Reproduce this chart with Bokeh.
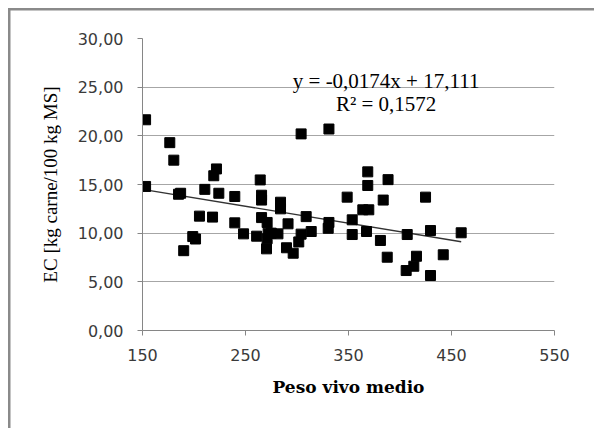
from bokeh.plotting import figure
from bokeh.models import Label, FixedTicker
from bokeh.embed import file_html
from bokeh.resources import INLINE

# data
peso_vivo = [153, 153, 176.5, 180.4, 185, 187, 190, 198.8, 201.5, 205.3,
             210.5, 219.2, 221.8, 218, 224.1, 239.6, 239.6, 248.1, 260.8, 264.3,
             265.6, 265.6, 265.6, 271, 270.4, 271, 272, 275, 281.5, 284,
             284, 291.3, 289.8, 296.3, 301.7, 304, 304, 308.9, 313.8, 331,
             331, 330.3, 348.7, 353.6, 353.6, 363.9, 369.7, 368.7, 368.7, 367.5,
             381, 383.7, 387.6, 388.4, 407, 406, 413.4, 416, 424.8, 429.6,
             429.6, 442, 459.4]
ec = [21.65, 14.8, 19.3, 17.5, 14.0, 14.1, 8.2, 9.65, 9.4, 11.75,
      14.5, 15.9, 16.6, 11.65, 14.1, 13.77, 11.06, 9.93, 9.69, 15.47,
      13.9, 13.4, 11.6, 11.1, 8.39, 9.42, 10.0, 10.0, 9.93, 13.18,
      12.5, 10.96, 8.5, 7.94, 9.1, 9.9, 20.2, 11.7, 10.17, 20.7,
      11.1, 10.5, 13.7, 11.37, 9.86, 12.4, 12.4, 16.3, 14.9, 10.17,
      9.25, 13.4, 7.53, 15.5, 9.86, 6.16, 6.6, 7.63, 13.7, 10.27,
      5.65, 7.78, 10.04]

slope = -0.0174
intercept = 17.111
r2 = 0.1572
eq_line1 = "y = -0,0174x + 17,111"
eq_line2 = "R² = 0,1572"

x_ticks = [150, 250, 350, 450, 550]
y_ticks = [0, 5, 10, 15, 20, 25, 30]
y_tick_labels = ["0,00", "5,00", "10,00", "15,00", "20,00", "25,00", "30,00"]

p = figure(width=594, height=428, output_backend="svg", toolbar_location=None,
           x_range=(150, 550), y_range=(0, 30),
           min_border_left=142, min_border_right=40,
           min_border_top=38, min_border_bottom=98)
p.outline_line_color = None
p.background_fill_color = "white"
p.border_fill_color = None
p.border_fill_alpha = 0
# outer chart border: only its top and left edges fall inside the window
p.styles = {
    "background": ("linear-gradient(#8a8a8a, #8a8a8a) 8px 8px / 100% 2.5px no-repeat, "
                   "linear-gradient(#8a8a8a, #8a8a8a) 8px 8px / 2.5px 100% no-repeat, "
                   "white"),
}

# axes
for ax in (p.xaxis[0], p.yaxis[0]):
    ax.axis_line_color = "#868686"
    ax.axis_line_width = 1
    ax.major_tick_line_color = "#868686"
    ax.major_tick_out = 5
    ax.major_tick_in = 0
    ax.minor_tick_line_color = None
    ax.major_label_text_font = "DejaVu Sans"
    ax.major_label_text_font_size = "16px"
    ax.major_label_text_color = "#3a3a3a"
    ax.axis_label_text_color = "black"

p.xaxis.ticker = FixedTicker(ticks=x_ticks)
p.yaxis.ticker = FixedTicker(ticks=y_ticks)
p.yaxis.major_label_overrides = {t: l for t, l in zip(y_ticks, y_tick_labels)}
p.xaxis.major_label_standoff = 13
p.yaxis.major_label_standoff = 14

p.xaxis.axis_label = "Peso vivo medio"
p.xaxis.axis_label_text_font = "DejaVu Serif"
p.xaxis.axis_label_text_font_style = "bold"
p.xaxis.axis_label_text_font_size = "17px"
p.xaxis.axis_label_standoff = 13
p.yaxis.axis_label = "EC [kg carne/100 kg MS]"
p.yaxis.axis_label_text_font = "Liberation Serif"
p.yaxis.axis_label_text_font_style = "normal"
p.yaxis.axis_label_text_font_size = "19px"
p.yaxis.axis_label_standoff = 14

p.xgrid.grid_line_color = None
p.ygrid.grid_line_color = "#a6a6a6"
p.ygrid.grid_line_width = 1

# trend line
x0, x1 = min(peso_vivo), max(peso_vivo)
p.line([x0, x1], [intercept + slope * x0, intercept + slope * x1],
       line_color="#333333", line_width=1.3)

p.scatter(peso_vivo, ec, marker="square", size=10,
          fill_color="black", line_color="black")

p.add_layout(Label(x=386.5, y=25.6, text=eq_line1, text_align="center",
                   text_baseline="middle", text_font="Liberation Serif",
                   text_font_size="21px", text_color="black"))
p.add_layout(Label(x=386.5, y=23.3, text=eq_line2, text_align="center",
                   text_baseline="middle", text_font="Liberation Serif",
                   text_font_size="21px", text_color="black"))

open("out.html", "w").write(file_html(p, INLINE))
